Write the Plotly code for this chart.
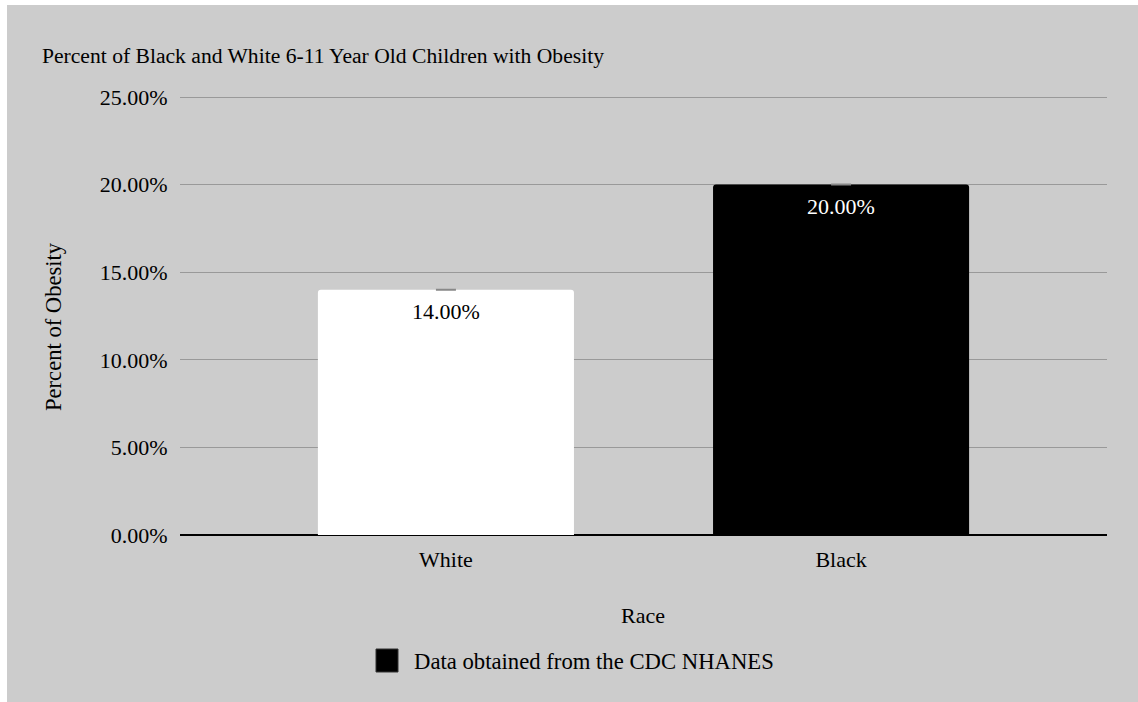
import plotly.graph_objects as go

categories = ["White", "Black"]
values = [14.0, 20.0]
bar_colors = ["#ffffff", "#000000"]
label_colors = ["#000000", "#ffffff"]
tick_vals = [0, 5, 10, 15, 20, 25]
tick_text = ["0.00%", "5.00%", "10.00%", "15.00%", "20.00%", "25.00%"]
series_name = "Data obtained from the CDC NHANES"
legend_color = "#000000"

FONT = "Liberation Serif, Times New Roman, serif"
FS = 22
W, H = 1138, 702
L, R, T, B = 180, 31, 93, 167
Y_TOP = 25 * (H - B - T) / (H - B - T - 4)

def px_x(px):
    return (px - L) / (W - L - R)

def px_y(py):
    return ((H - B) - py) / (H - B - T)

fig = go.Figure()
fig.add_trace(go.Bar(
    x=categories, y=values, name=series_name,
    marker=dict(color=bar_colors, line=dict(width=0)),
    width=0.648,
    error_y=dict(type="data", array=[0, 0], visible=True, color="#888888", thickness=2, width=10),
    showlegend=False,
))

annotations = [
    dict(x=c, y=v, xref="x", yref="y", text=f"{v:.2f}%", showarrow=False,
         xanchor="center", yanchor="middle", yshift=-22,
         font=dict(family=FONT, size=FS, color=lc))
    for c, v, lc in zip(categories, values, label_colors)
]
annotations += [
    dict(text="Race", x=px_x(643), y=px_y(615), xref="paper", yref="paper",
         showarrow=False, xanchor="center", yanchor="middle",
         font=dict(family=FONT, size=FS, color="#000000")),
    dict(text="Percent of Obesity", x=px_x(53), y=px_y(327), xref="paper", yref="paper",
         showarrow=False, xanchor="center", yanchor="middle", textangle=-90,
         font=dict(family=FONT, size=22.6, color="#000000")),
    dict(text=series_name, x=px_x(412), y=px_y(661), xref="paper", yref="paper",
         showarrow=False, xanchor="left", yanchor="middle",
         font=dict(family=FONT, size=22.7, color="#000000")),
]

fig.update_layout(
    width=W, height=H,
    margin=dict(l=L, r=R, t=T, b=B, pad=0),
    paper_bgcolor="#cccccc", plot_bgcolor="#cccccc",
    font=dict(family=FONT, size=FS, color="#000000"),
    barcornerradius=3,
    showlegend=False,
    title=dict(text="Percent of Black and White 6-11 Year Old Children with Obesity",
               x=42 / W, xanchor="left", xref="container",
               y=1 - 55 / H, yanchor="middle", yref="container",
               font=dict(family=FONT, size=21.6, color="#000000")),
    xaxis=dict(range=[-0.673, 1.673], showgrid=False, zeroline=False, showline=False,
               ticks="outside", ticklen=5, tickcolor="rgba(0,0,0,0)",
               tickfont=dict(family=FONT, size=FS, color="#000000"), fixedrange=True),
    yaxis=dict(range=[0, Y_TOP], tickvals=tick_vals, ticktext=tick_text,
               showgrid=True, gridcolor="#999999", gridwidth=1,
               zeroline=True, zerolinecolor="#000000", zerolinewidth=2,
               showline=False, ticks="outside", ticklen=7, tickcolor="rgba(0,0,0,0)",
               tickfont=dict(family=FONT, size=FS, color="#000000"), fixedrange=True),
    annotations=annotations,
    shapes=[
        dict(type="rect", xref="paper", yref="paper", x0=px_x(376), x1=px_x(398),
             y0=px_y(672), y1=px_y(649), fillcolor=legend_color,
             line=dict(width=1, color="#333333")),
        dict(type="rect", xref="paper", yref="paper", x0=px_x(0), x1=px_x(7),
             y0=px_y(H), y1=px_y(0), fillcolor="#ffffff", line=dict(width=0), layer="above"),
        dict(type="rect", xref="paper", yref="paper", x0=px_x(0), x1=px_x(W),
             y0=px_y(5), y1=px_y(0), fillcolor="#ffffff", line=dict(width=0), layer="above"),
    ],
)

fig.write_html("out.html")
